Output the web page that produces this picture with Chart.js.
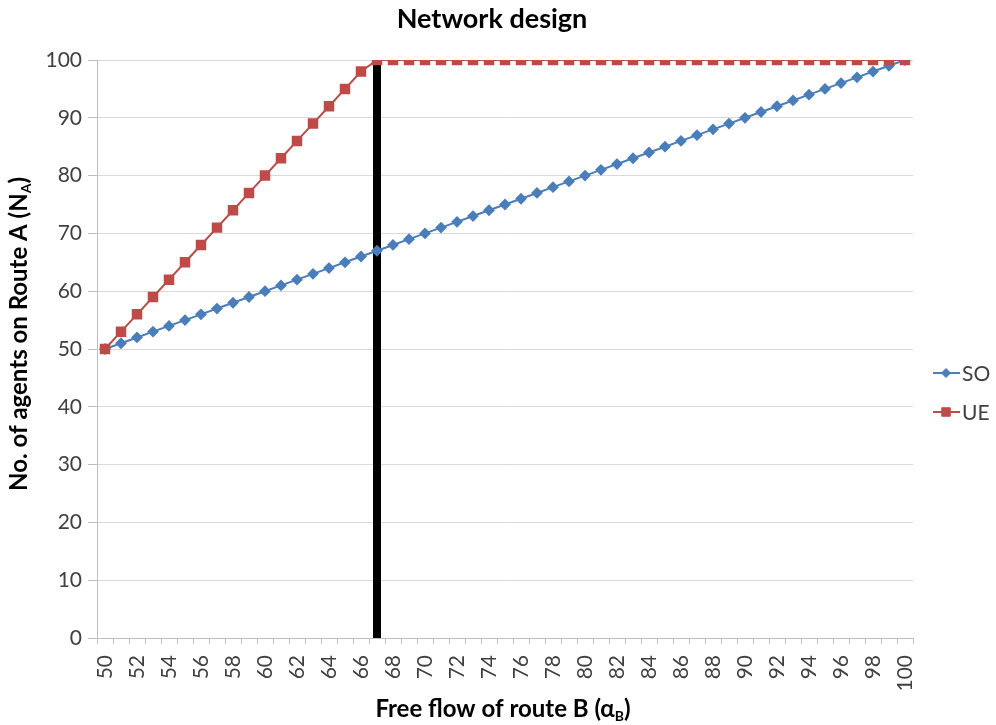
<!DOCTYPE html>
<html>
<head>
<meta charset="utf-8">
<script src="https://cdn.jsdelivr.net/npm/chart.js@4/dist/chart.umd.min.js"></script>
<style>
  html, body { margin: 0; padding: 0; background: #ffffff; }
  #wrap { width: 996px; height: 725px; }
</style>
</head>
<body>
<div id="wrap"><canvas id="c" width="996" height="725"></canvas></div>
<script>
// Free flow time of route B (x categories)
const categories = ['50','51','52','53','54','55','56','57','58','59','60','61','62','63','64','65','66','67','68','69','70','71','72','73','74','75','76','77','78','79','80','81','82','83','84','85','86','87','88','89','90','91','92','93','94','95','96','97','98','99','100'];

// System optimum: agents on route A
const soValues = [50,51,52,53,54,55,56,57,58,59,60,61,62,63,64,65,66,67,68,69,70,71,72,73,74,75,76,77,78,79,80,81,82,83,84,85,86,87,88,89,90,91,92,93,94,95,96,97,98,99,100];

// User equilibrium: agents on route A
const ueValues = [50,53,56,59,62,65,68,71,74,77,80,83,86,89,92,95,98,100,100,100,100,100,100,100,100,100,100,100,100,100,100,100,100,100,100,100,100,100,100,100,100,100,100,100,100,100,100,100,100,100,100];

// Vertical marker at the design threshold
const thresholdX = '67';
const thresholdRange = [0, 100];

const seriesNames = ['SO', 'UE'];
const chartTitle = 'Network design';
const xTitle = ['Free flow of route B (α', 'B', ')'];
const yTitle = ['No. of agents on Route A (N', 'A', ')'];

const FONT = 'Lato, "Open Sans", sans-serif';
const BLUE = '#4A7EBB';
const RED = '#BE4B48';
const TEXT = '#404040';

// Draws "main + subscript + tail" centred on the current origin, baseline at y = 0
function drawSubText(ctx, parts, size) {
  const mainFont = 'bold ' + size + 'px ' + FONT;
  const subFont = 'bold ' + Math.round(size * 0.6) + 'px ' + FONT;
  ctx.font = mainFont; const w0 = ctx.measureText(parts[0]).width;
  ctx.font = subFont; const w1 = ctx.measureText(parts[1]).width;
  ctx.font = mainFont; const w2 = ctx.measureText(parts[2]).width;
  let x = -(w0 + w1 + w2) / 2;
  ctx.textAlign = 'left';
  ctx.textBaseline = 'alphabetic';
  ctx.font = mainFont; ctx.fillText(parts[0], x, 0); x += w0;
  ctx.font = subFont; ctx.fillText(parts[1], x, size * 0.18); x += w1;
  ctx.font = mainFont; ctx.fillText(parts[2], x, 0);
}

const decor = {
  id: 'decor',
  afterDraw(chart) {
    const ctx = chart.ctx;
    ctx.save();
    ctx.fillStyle = '#000000';

    // chart title
    ctx.font = 'bold 27px ' + FONT;
    ctx.textAlign = 'center';
    ctx.textBaseline = 'alphabetic';
    ctx.fillText(chartTitle, 492, 28);

    // x axis title
    ctx.save();
    ctx.translate(503, 717);
    drawSubText(ctx, xTitle, 24);
    ctx.restore();

    // y axis title
    ctx.save();
    ctx.translate(27, 334);
    ctx.rotate(-Math.PI / 2);
    drawSubText(ctx, yTitle, 24);
    ctx.restore();

    // legend: line segment with marker, then series name
    const items = chart.data.datasets.filter(d => d.label);
    const lx = 933, ly = [373, 412];
    items.forEach((ds, i) => {
      const y = ly[i];
      ctx.strokeStyle = ds.borderColor;
      ctx.lineWidth = 2;
      ctx.beginPath(); ctx.moveTo(lx, y); ctx.lineTo(lx + 27, y); ctx.stroke();
      ctx.fillStyle = ds.pointBackgroundColor;
      ctx.strokeStyle = ds.pointBorderColor;
      ctx.lineWidth = 1;
      Chart.helpers.drawPoint(ctx, {
        pointStyle: ds.pointStyle, radius: ds.pointRadius, borderWidth: 1, rotation: 0
      }, lx + 13, y);
      ctx.fillStyle = TEXT;
      ctx.font = '21px ' + FONT;
      ctx.textAlign = 'left';
      ctx.textBaseline = 'middle';
      ctx.fillText(ds.label, lx + 29, y + 1);
    });
    ctx.restore();
  }
};

new Chart(document.getElementById('c'), {
  type: 'line',
  data: {
    labels: categories,
    datasets: [
      {
        label: seriesNames[0],
        data: soValues,
        borderColor: BLUE,
        backgroundColor: BLUE,
        pointBackgroundColor: BLUE,
        pointBorderColor: BLUE,
        pointStyle: 'rectRot',
        pointRadius: 4.5,
        borderWidth: 2,
        order: 1
      },
      {
        label: seriesNames[1],
        data: ueValues,
        borderColor: RED,
        backgroundColor: RED,
        pointBackgroundColor: RED,
        pointBorderColor: RED,
        pointStyle: 'rect',
        pointRadius: 6,
        borderWidth: 2,
        order: 0
      },
      {
        label: '',
        data: [{x: thresholdX, y: thresholdRange[0]}, {x: thresholdX, y: thresholdRange[1]}],
        borderColor: '#000000',
        borderWidth: 8,
        borderCapStyle: 'butt',
        pointRadius: 0,
        order: 10
      }
    ]
  },
  options: {
    responsive: false,
    animation: false,
    devicePixelRatio: 1,
    layout: { padding: { left: 0, right: 83, top: 60, bottom: 0 } },
    plugins: {
      legend: { display: false },
      title: { display: false },
      tooltip: { enabled: false }
    },
    scales: {
      x: {
        type: 'category',
        offset: true,
        afterFit: (s) => { s.height = 87; },
        grid: {
          display: true,
          drawOnChartArea: false,
          offset: true,
          tickLength: 6,
          color: '#BFBFBF'
        },
        border: { color: '#BFBFBF', width: 1 },
        ticks: {
          autoSkip: false,
          maxRotation: 90,
          minRotation: 90,
          color: TEXT,
          font: { family: FONT, size: 21 },
          padding: 11,
          callback: (v, i) => (i % 2 === 0 ? categories[i] : '')
        }
      },
      y: {
        min: 0,
        max: 100,
        afterFit: (s) => { s.width = 97; },
        ticks: {
          stepSize: 10,
          color: TEXT,
          font: { family: FONT, size: 21 },
          padding: 6
        },
        grid: {
          color: '#D9D9D9',
          tickLength: 9,
          tickColor: '#BFBFBF'
        },
        border: { color: '#BFBFBF', width: 1 }
      }
    }
  },
  plugins: [decor]
});
</script>
</body>
</html>
